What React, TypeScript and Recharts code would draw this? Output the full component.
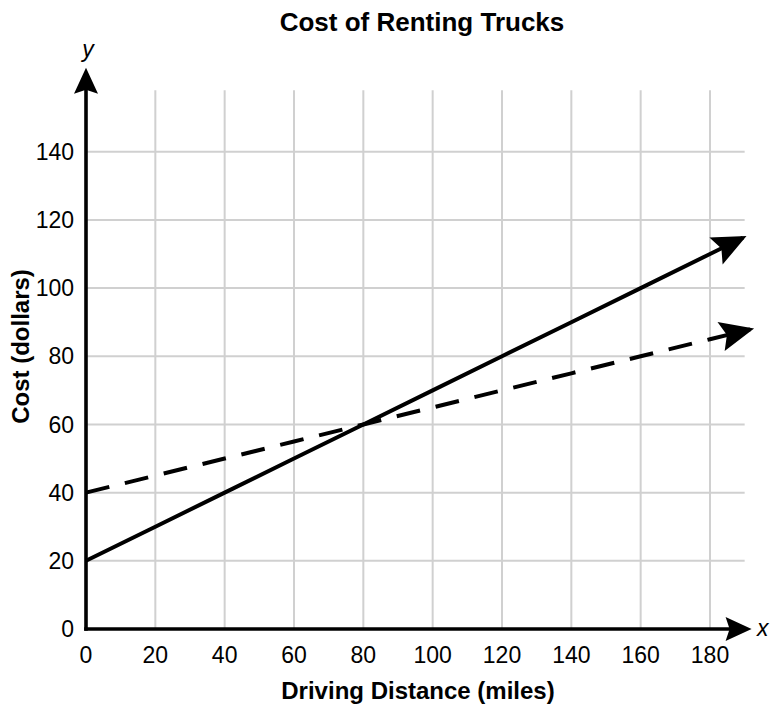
import React from 'react';
import { LineChart, Line, XAxis, YAxis, ReferenceLine, Label } from 'recharts';

const FONT = '"Liberation Sans", Arial, Helvetica, sans-serif';

// ---- data ----
const distances = [0, 20, 40, 60, 80, 100, 120, 140, 160, 180];
const solidCost = [20, 30, 40, 50, 60, 70, 80, 90, 100, 110];
const dashedCost = [40, 45, 50, 55, 60, 65, 70, 75, 80, 85];
const solidTip = { x: 189.5, y: 114.75 };
const dashedTip = { x: 191.6, y: 87.9 };

const xTicks = [0, 20, 40, 60, 80, 100, 120, 140, 160, 180];
const yTicks = [0, 20, 40, 60, 80, 100, 120, 140];
const xGridLines = [20, 40, 60, 80, 100, 120, 140, 160, 180];
const yGridLines = [20, 40, 60, 80, 100, 120, 140];
const gridTop = 158;
const gridRight = 190;
const xAxisEnd = 192;
const yAxisEnd = 164.6;

const solidData = [
  ...distances.map((d, i) => ({ x: d, y: solidCost[i] })),
  solidTip,
];
const dashedData = [
  ...distances.map((d, i) => ({ x: d, y: dashedCost[i] })),
  dashedTip,
];

const makeArrow =
  (len: number, hw: number, notch: number, extend: number, shaft: boolean, sw: number) =>
  (p: any) => {
    const x1 = Number(p.x1), y1 = Number(p.y1), x2 = Number(p.x2), y2 = Number(p.y2);
    const dx = x2 - x1, dy = y2 - y1;
    const L = Math.hypot(dx, dy) || 1;
    const ux = dx / L, uy = dy / L;
    const tx = x2 + ux * extend, ty = y2 + uy * extend;
    const bx = tx - ux * len, by = ty - uy * len;
    const nx = -uy, ny = ux;
    const mx = tx - ux * (len - notch), my = ty - uy * (len - notch);
    const pts = [
      [tx, ty],
      [bx + nx * hw, by + ny * hw],
      [mx, my],
      [bx - nx * hw, by - ny * hw],
    ]
      .map((q) => q.join(','))
      .join(' ');
    return (
      <g>
        {shaft && (
          <line x1={x1} y1={y1} x2={mx} y2={my} stroke="#000" strokeWidth={sw} strokeLinecap="square" />
        )}
        <polygon points={pts} fill="#000" />
      </g>
    );
  };

const axisArrow = makeArrow(26, 12, 4, 0, true, 3.6);
const dataArrow = makeArrow(34, 15, 6, 4, false, 0);

export default function App() {
  return (
    <div style={{ position: 'absolute', left: 0, top: 0 }}>
      <LineChart
        width={771}
        height={708}
        margin={{ top: 66.5, right: 9, bottom: 0, left: 0 }}
        style={{ fontFamily: FONT }}
      >
        <XAxis
          dataKey="x"
          type="number"
          domain={[0, 195]}
          ticks={xTicks}
          axisLine={false}
          tickLine={false}
          tickSize={0}
          tickMargin={18}
          height={79}
          interval={0}
          tick={{ fontSize: 23, fill: '#000', fontFamily: FONT }}
        >
          <Label
            content={() => (
              <text x={418} y={699} textAnchor="middle" fontSize={24} fontWeight="bold" fontFamily={FONT} fill="#000">
                Driving Distance (miles)
              </text>
            )}
          />
        </XAxis>
        <YAxis
          type="number"
          domain={[0, 165]}
          ticks={yTicks}
          axisLine={false}
          tickLine={false}
          tickSize={0}
          tickMargin={12}
          width={86}
          interval={0}
          tick={{ fontSize: 23, fill: '#000', fontFamily: FONT }}
        >
          <Label
            content={() => (
              <text
                transform="translate(29,346.5) rotate(-90)"
                textAnchor="middle"
                fontSize={24}
                fontWeight="bold"
                fontFamily={FONT}
                fill="#000"
              >
                Cost (dollars)
              </text>
            )}
          />
        </YAxis>

        {xGridLines.map((v) => (
          <ReferenceLine
            key={'gx' + v}
            segment={[{ x: v, y: 0 }, { x: v, y: gridTop }]}
            stroke="#d0d0d0"
            strokeWidth={2}
            ifOverflow="visible"
          />
        ))}
        {yGridLines.map((v) => (
          <ReferenceLine
            key={'gy' + v}
            segment={[{ x: 0, y: v }, { x: gridRight, y: v }]}
            stroke="#d0d0d0"
            strokeWidth={2}
            ifOverflow="visible"
          />
        ))}

        <Line
          data={dashedData}
          dataKey="y"
          type="linear"
          stroke="#000"
          strokeWidth={4}
          strokeDasharray="24 16"
          dot={false}
          activeDot={false}
          isAnimationActive={false}
        />
        <Line
          data={solidData}
          dataKey="y"
          type="linear"
          stroke="#000"
          strokeWidth={4}
          dot={false}
          activeDot={false}
          isAnimationActive={false}
        />

        <ReferenceLine
          segment={[{ x: 180, y: 110 }, solidTip]}
          shape={dataArrow}
          ifOverflow="visible"
        />
        <ReferenceLine
          segment={[{ x: 180, y: 85 }, dashedTip]}
          shape={dataArrow}
          ifOverflow="visible"
        />

        <ReferenceLine
          segment={[{ x: 0, y: 0 }, { x: xAxisEnd, y: 0 }]}
          shape={axisArrow}
          ifOverflow="visible"
        />
        <ReferenceLine
          segment={[{ x: 0, y: 0 }, { x: 0, y: yAxisEnd }]}
          shape={axisArrow}
          ifOverflow="visible"
        />

        <text x={422} y={31} textAnchor="middle" fontSize={26} fontWeight="bold" fontFamily={FONT} fill="#000">
          Cost of Renting Trucks
        </text>
        <text x={88} y={57} textAnchor="middle" fontSize={23} fontStyle="italic" fontFamily={FONT} fill="#000">
          y
        </text>
        <text x={757} y={636} textAnchor="start" fontSize={23} fontStyle="italic" fontFamily={FONT} fill="#000">
          x
        </text>
      </LineChart>
    </div>
  );
}
